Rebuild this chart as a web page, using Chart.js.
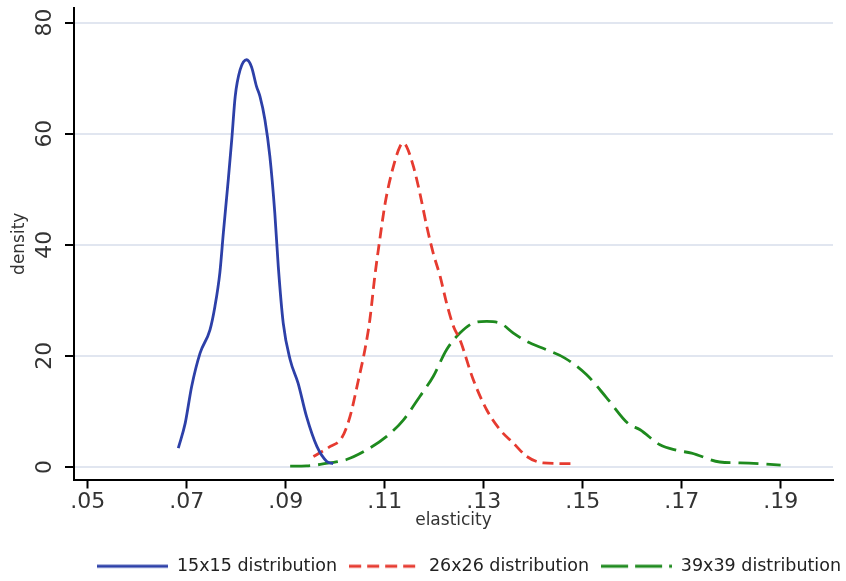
<!DOCTYPE html>
<html>
<head>
<meta charset="utf-8">
<script src="https://cdn.jsdelivr.net/npm/chart.js@4.4.1/dist/chart.umd.min.js"></script>
<style>
    body { margin: 0; background: #fff; }
    #chart { display: block; }
</style>
</head>
<body>
<canvas id="chart" width="846" height="581"></canvas>
<script>
// kernel density estimates
const seriesNames = ["15x15 distribution", "26x26 distribution", "39x39 distribution"];

const x15 = [.0683, .0697, .0710, .0727, .0747, .0757, .0767, .0774, .0784, .0791, .0798, .0808, .0821, .0831, .0841, .0848, .0858, .0868, .0878, .0885, .0895, .0909, .0925, .0942, .0963, .0983, .0996];
const y15 = [3.4, 7.9, 14.5, 20.5, 24.7, 28.9, 35, 42.1, 51.7, 58.9, 66.7, 71.5, 73.3, 72, 68.5, 66.7, 62.5, 55.9, 45.7, 36.1, 25.9, 19.3, 15.1, 9.1, 3.7, 1.0, 0.6];

const x26 = [.0956, .0990, .1013, .1030, .1047, .1060, .1070, .1080, .1090, .1101, .1114, .1131, .1138, .1144, .1158, .1171, .1185, .1198, .1212, .1225, .1239, .1252, .1279, .1306, .1333, .1360, .1387, .1420, .1481];
const y26 = [1.9, 3.7, 5.2, 9.1, 15.7, 21.1, 26.5, 34.3, 40.9, 47.5, 52.9, 57.7, 58.3, 57.7, 54.1, 49.3, 43.3, 38.5, 34.3, 29.5, 25.3, 22.9, 15.7, 10.3, 6.7, 4.3, 1.9, 0.75, 0.6];

const x39 = [.0909, .0942, .0990, .1023, .1064, .1104, .1138, .1171, .1198, .1225, .1252, .1279, .1306, .1333, .1360, .1387, .1427, .1464, .1508, .1548, .1592, .1616, .1656, .1690, .1720, .1777, .1818, .1858, .1900];
const y39 = [0.15, 0.2, 0.75, 1.35, 3.1, 5.5, 8.5, 12.7, 16.3, 21.1, 24.1, 25.9, 26.2, 25.9, 24.1, 22.6, 21.1, 19.6, 16.6, 12.5, 7.8, 6.7, 4.0, 3.0, 2.5, 0.9, 0.75, 0.6, 0.35];

const xTicks = [.05, .07, .09, .11, .13, .15, .17, .19];
const xTickLabels = [".05", ".07", ".09", ".11", ".13", ".15", ".17", ".19"];
const yTicks = [0, 20, 40, 60, 80];

const font = "'DejaVu Sans', Verdana, sans-serif";
const lineW = 2.8;

function toPoints(xs, ys) {
    return xs.map((x, i) => ({ x: x, y: ys[i] }));
}

// small canvas used as the legend sample, so the dashes show there too
function legendSample(color, dash) {
    const c = document.createElement("canvas");
    c.width = 71;
    c.height = 6;
    const ctx = c.getContext("2d");
    ctx.strokeStyle = color;
    ctx.lineWidth = lineW;
    ctx.setLineDash(dash);
    ctx.beginPath();
    ctx.moveTo(0, 3);
    ctx.lineTo(71, 3);
    ctx.stroke();
    return c;
}

function lineSet(label, xs, ys, color, dash, legendDash) {
    return {
        label: label,
        data: toPoints(xs, ys),
        borderColor: color,
        backgroundColor: color,
        borderWidth: lineW,
        borderDash: dash,
        pointRadius: 0,
        pointStyle: legendSample(color, legendDash),
        cubicInterpolationMode: 'monotone',
        fill: false
    };
}

new Chart(document.getElementById("chart"), {
    type: 'line',
    data: {
        datasets: [
            lineSet(seriesNames[0], x15, y15, '#2d40a8', [], []),
            lineSet(seriesNames[1], x26, y26, '#e63b30', [11, 6], [12, 6]),
            lineSet(seriesNames[2], x39, y39, '#1e8a1e', [20, 8], [27, 7])
        ]
    },
    options: {
        responsive: false,
        animation: false,
        layout: { padding: { left: 0, right: -7, top: 8, bottom: -4 } },
        plugins: {
            tooltip: { enabled: false },
            legend: {
                position: 'bottom',
                align: 'end',
                labels: {
                    usePointStyle: true,
                    pointStyleWidth: 71,
                    padding: 12,
                    color: '#222',
                    font: { family: font, size: 17.5 }
                }
            }
        },
        scales: {
            x: {
                type: 'linear',
                min: .04723,
                max: .20057,
                afterBuildTicks: s => { s.ticks = xTicks.map(v => ({ value: v })); },
                afterFit: s => {
                    s.height = 66;
                    s.paddingLeft = 0;
                    s.paddingRight = 0;
                },
                grid: { drawOnChartArea: false, drawTicks: true, tickLength: 9, tickWidth: 2, tickColor: '#000' },
                border: { display: true, color: '#000', width: 2 },
                ticks: {
                    padding: 1,
                    maxRotation: 0,
                    autoSkip: false,
                    color: '#333',
                    font: { family: font, size: 22 },
                    callback: (v, i) => xTickLabels[i]
                },
                title: {
                    display: true,
                    text: 'elasticity',
                    color: '#333',
                    padding: { top: 0, bottom: 15 },
                    font: { family: font, size: 17 }
                }
            },
            y: {
                type: 'linear',
                min: -2.25,
                max: 82.61,
                afterBuildTicks: s => { s.ticks = yTicks.map(v => ({ value: v })); },
                afterFit: s => {
                    s.width = 74;
                    s.paddingTop = 0;
                    s.paddingBottom = 0;
                },
                grid: { color: '#e1e6f0', lineWidth: 2, drawTicks: true, tickLength: 9, tickWidth: 2, tickColor: '#000' },
                border: { display: true, color: '#000', width: 2 },
                ticks: {
                    minRotation: 90,
                    maxRotation: 90,
                    crossAlign: 'center',
                    padding: 6,
                    color: '#333',
                    font: { family: font, size: 22 }
                },
                title: {
                    display: true,
                    text: 'density',
                    color: '#333',
                    padding: { top: 9, bottom: 0 },
                    font: { family: font, size: 17 }
                }
            },
            yR: {
                type: 'linear',
                position: 'right',
                display: true,
                afterFit: s => { s.width = 20; },
                grid: { display: false },
                ticks: { display: false },
                border: { display: false }
            }
        }
    }
});
</script>
</body>
</html>
